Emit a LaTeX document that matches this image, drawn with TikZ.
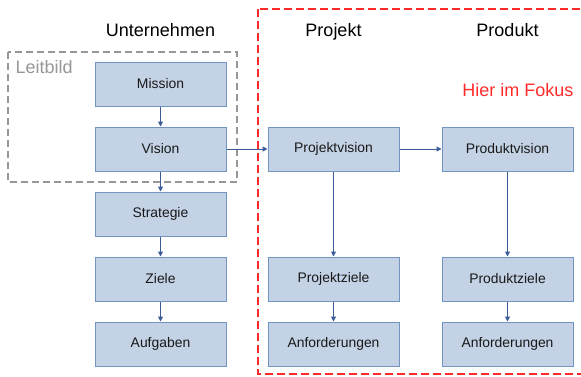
\documentclass[tikz,border=0pt]{standalone}
\usepackage{fontspec}
\setmainfont{Liberation Sans}
\usetikzlibrary{positioning,arrows.meta}
\definecolor{boxfillcolor}{HTML}{C4D2E5}
\definecolor{boxdrawcolor}{HTML}{7393C1}
\definecolor{arrowcolor}{HTML}{3D5C97}
\definecolor{leitbildcolor}{HTML}{979797}
\definecolor{fokuscolor}{HTML}{FF2B2B}

\begin{document}
\begin{tikzpicture}[x=1pt, y=1pt,
        box/.style={draw=boxdrawcolor, line width=1pt, fill=boxfillcolor, minimum width=131pt, minimum height=44pt, inner sep=0pt, text=black!90, font=\fontsize{13.9}{16}\selectfont},
        heading/.style={inner sep=0pt, font=\fontsize{18}{21}\selectfont},
        flow/.style={draw=arrowcolor, line width=1pt, -{Triangle[length=5pt,width=5pt]}},
        leitbildframe/.style={draw=leitbildcolor, line width=2pt, dash pattern=on 7pt off 4pt},
        fokusframe/.style={draw=fokuscolor, line width=1.5pt, dash pattern=on 8pt off 4pt}]
        \useasboundingbox (0,0) rectangle (581,-376);

        \draw [fokusframe] (258,-9) rectangle (600,-374);
        \draw [leitbildframe] (8,-52) rectangle (237,-182);

        \node (Mission) at (160.5,-84) [box] {Mission};
        \node (Vision) [box, below=20pt of Mission] {Vision};
        \node (Strategie) [box, below=20pt of Vision] {Strategie};
        \node (Ziele) [box, below=20pt of Strategie] {Ziele};
        \node (Aufgaben) [box, below=20pt of Ziele] {Aufgaben};

        \node (Projektvision) [box, right=41pt of Vision] {Projektvision};
        \node (Produktvision) [box, right=42pt of Projektvision] {Produktvision};
        \node (Projektziele) at (Projektvision |- Ziele) [box] {Projektziele};
        \node (Produktziele) at (Produktvision |- Ziele) [box] {Produktziele};
        \node (ProjektAnf) [box, below=20pt of Projektziele] {Anforderungen};
        \node (ProduktAnf) [box, below=20pt of Produktziele] {Anforderungen};

        \node (UnternehmenTitel) at (Mission |- 0,-36) [heading, anchor=base] {Unternehmen};
        \node (ProjektTitel) at (Projektvision |- 0,-36) [heading, anchor=base] {Projekt};
        \node (ProduktTitel) at (Produktvision |- 0,-36) [heading, anchor=base] {Produkt};
        \node (Leitbild) at (15.5,-73) [heading, anchor=base west, text=leitbildcolor] {Leitbild};
        \node (Fokus) at (Produktvision.east |- 0,-96) [heading, anchor=base east, text=fokuscolor] {Hier im Fokus};

        \draw [flow] (Mission) -- (Vision);
        \draw [flow] (Vision) -- (Strategie);
        \draw [flow] (Strategie) -- (Ziele);
        \draw [flow] (Ziele) -- (Aufgaben);
        \draw [flow] (Vision) -- (Projektvision);
        \draw [flow] (Projektvision) -- (Produktvision);
        \draw [flow] (Projektvision) -- (Projektziele);
        \draw [flow] (Produktvision) -- (Produktziele);
        \draw [flow] (Projektziele) -- (ProjektAnf);
        \draw [flow] (Produktziele) -- (ProduktAnf);
\end{tikzpicture}
\end{document}
